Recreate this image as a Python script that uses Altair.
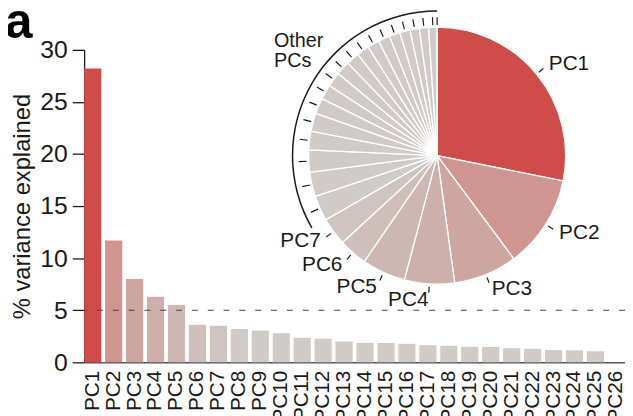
import altair as alt
import pandas as pd

# ---- data ----
PCS = ["PC1", "PC2", "PC3", "PC4", "PC5", "PC6", "PC7", "PC8", "PC9", "PC10",
       "PC11", "PC12", "PC13", "PC14", "PC15", "PC16", "PC17", "PC18", "PC19",
       "PC20", "PC21", "PC22", "PC23", "PC24", "PC25", "PC26"]
VARIANCE = [28.2, 11.7, 8.0, 6.3, 5.5, 3.6, 3.5, 3.2, 3.05, 2.8,
            2.35, 2.27, 2.0, 1.86, 1.85, 1.77, 1.64, 1.58, 1.49,
            1.47, 1.36, 1.3, 1.17, 1.15, 1.07, 0.0]
Y_TICKS = [0, 5, 10, 15, 20, 25, 30]
THRESHOLD = [5]
LABELS_RIGHT = ["PC1", "PC2", "PC3"]
LABELS_LEFT = ["PC4", "PC5", "PC6", "PC7"]
OTHER_FROM = 8
OTHER_LINES = ["Other", "PCs"]
PANEL = ["a"]
Y_TITLE = "% variance explained"

# ---- styles ----
COLORS = ["#CF4C4A", "#CF9591", "#CDA6A2", "#CDB0AC", "#CDB7B3", "#CEBFBB",
          "#CFC4C0"] + ["#D1CBC8"] * 19
FONT = "Liberation Sans"
NARROW = "Liberation Sans Narrow, Liberation Sans"
INK = "#1a1a1a"
CX, CY = 357, 107
R = 130

df = pd.DataFrame({"pc": PCS, "idx": list(range(1, len(PCS) + 1)), "value": VARIANCE})
TOTAL = float(sum(VARIANCE))

color_scale = alt.Scale(domain=PCS, range=COLORS)
theta_scale = alt.Scale(domain=[0, TOTAL])

bars = alt.Chart(df).mark_bar().encode(
    x=alt.X("pc:N", sort=PCS,
            scale=alt.Scale(paddingInner=0.18, paddingOuter=0),
            axis=alt.Axis(title=None, labelAngle=-90, ticks=False, labelPadding=8,
                          labelFontSize=21, labelFont=NARROW, labelColor=INK,
                          domainColor="#555", domainWidth=1.5, labelOverlap=False)),
    y=alt.Y("value:Q", scale=alt.Scale(domain=[0, 30]),
            axis=alt.Axis(title=Y_TITLE, values=Y_TICKS, tickSize=12, tickWidth=1.3,
                          tickColor=INK, domainColor=INK, domainWidth=1.3,
                          labelFontSize=25, labelPadding=5, labelFont=FONT,
                          labelColor=INK, titleFont=FONT, titleFontSize=24,
                          titleFontWeight="normal", titleColor=INK, titlePadding=5,
                          grid=False)),
    color=alt.Color("pc:N", scale=color_scale, legend=None),
)

rule = alt.Chart(pd.DataFrame({"t": THRESHOLD})).mark_rule(
    strokeDash=[6, 10], color="#444", strokeWidth=1.1
).encode(y="t:Q")

pie_base = alt.Chart(df).transform_window(
    cum="sum(value)", sort=[alt.SortField("idx", order="ascending")], frame=[None, 0]
).transform_calculate(
    start="datum.cum - datum.value",
    mid="datum.cum - datum.value / 2",
    t0="datum.cum - datum.value / 2 - 0.07",
    t1="datum.cum - datum.value / 2 + 0.07",
)

center = dict(x=alt.value(CX), y=alt.value(CY))

arcs = pie_base.mark_arc(radius=R, stroke="white", strokeWidth=1.3).encode(
    theta=alt.Theta("start:Q", scale=theta_scale, stack=None),
    theta2="cum:Q",
    color=alt.Color("pc:N", scale=color_scale, legend=None),
    **center,
)

leaders = pie_base.transform_filter(
    alt.FieldOneOfPredicate(field="pc", oneOf=LABELS_RIGHT + LABELS_LEFT)
).mark_arc(radius=139, radius2=133, color=INK).encode(
    theta=alt.Theta("t0:Q", scale=theta_scale, stack=None), theta2="t1:Q", **center
)

labels_r = pie_base.transform_filter(
    alt.FieldOneOfPredicate(field="pc", oneOf=LABELS_RIGHT)
).mark_text(radius=146, align="left", baseline="middle", fontSize=21, font=FONT,
            color=INK).encode(
    theta=alt.Theta("mid:Q", scale=theta_scale, stack=None), text="pc:N", **center
)

labels_l = pie_base.transform_filter(
    alt.FieldOneOfPredicate(field="pc", oneOf=LABELS_LEFT)
).mark_text(radius=146, align="right", baseline="middle", fontSize=21, font=FONT,
            color=INK).encode(
    theta=alt.Theta("mid:Q", scale=theta_scale, stack=None), text="pc:N", **center
)

bracket = pie_base.transform_filter(f"datum.idx >= {OTHER_FROM}").transform_aggregate(
    s="min(start)", e="max(cum)"
).mark_arc(radius=147, radius2=145.5, color=INK).encode(
    theta=alt.Theta("s:Q", scale=theta_scale, stack=None), theta2="e:Q", **center
)

other_ticks = pie_base.transform_filter(f"datum.idx >= {OTHER_FROM}").mark_arc(
    radius=140, radius2=132, color=INK
).encode(theta=alt.Theta("t0:Q", scale=theta_scale, stack=None), theta2="t1:Q", **center)

other_text = alt.Chart(pd.DataFrame({"label": [OTHER_LINES]})).mark_text(
    align="left", baseline="top", fontSize=20, lineHeight=20,
    font=FONT, color=INK
).encode(text="label", x=alt.value(192), y=alt.value(-19))

panel = alt.Chart(pd.DataFrame({"label": PANEL})).mark_text(
    align="left", baseline="alphabetic", fontSize=50, fontWeight="bold",
    font=FONT, color="#000"
).encode(text="label:N", x=alt.value(-80), y=alt.value(-12))

chart = alt.layer(
    bars, rule, arcs, leaders, labels_r, labels_l, bracket, other_ticks,
    other_text, panel
).properties(
    width=547, height=316,
    padding={"left": 77, "top": 40, "right": 0, "bottom": 52},
    autosize=alt.AutoSizeParams(type="none"),
).configure_view(stroke=None)

chart.save("out.html", embed_options={"renderer": "svg", "actions": False})
